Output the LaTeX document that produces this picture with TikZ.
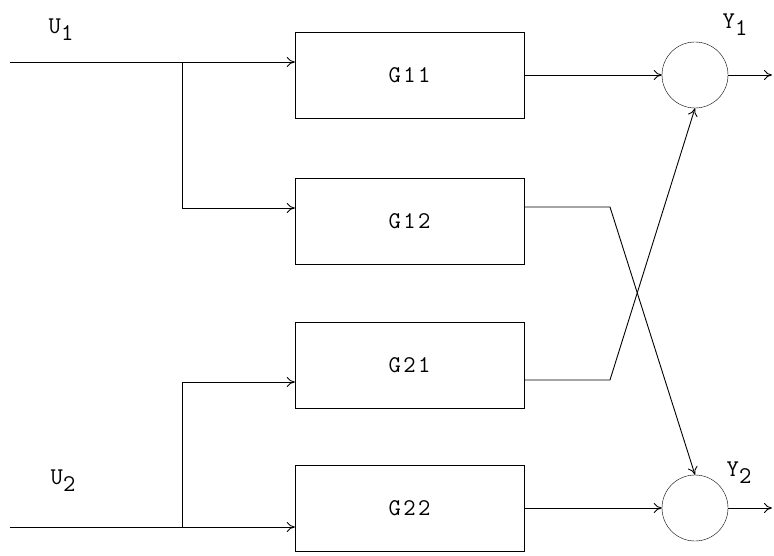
\documentclass[tikz,border=0pt]{standalone}
\usepackage{fontspec}
\newfontfamily\diagfont[LetterSpace=10]{Latin Modern Mono}
\usetikzlibrary{arrows.meta,positioning,calc}
\newcommand{\dn}[1]{\raisebox{-0.65ex}{#1}}

\begin{document}
\begin{tikzpicture}[x=1pt,y=-1pt,
  blk/.style={draw,minimum width=229pt,minimum height=86pt,
              font=\fontsize{24}{26}\diagfont},
  sum/.style={draw,circle,minimum size=66pt,inner sep=0pt},
  sig/.style={-{To[length=8pt,width=10pt]},line width=0.9pt},
  lbl/.style={font=\fontsize{24}{26}\diagfont,inner sep=0pt}
]
\useasboundingbox (0,0) rectangle (774,556);

% transfer blocks
\node[blk] (g11) at (409.5,75)  {G11};
\node[blk] (g12) at (409.5,221) {G12};
\node[blk] (g21) at (409.5,365) {G21};
\node[blk] (g22) at (409.5,508) {G22};

% summing junctions
\node[sum] (s1) at (695,75)  {};
\node[sum] (s2) at (695,508) {};

% ends and corners
\coordinate (u1) at (10,62);
\coordinate (u2) at (10,527);
\coordinate (b1) at (182,62);
\coordinate (b2) at (182,527);
\coordinate (k1) at (610,207);
\coordinate (k2) at (610,380);
\coordinate (y1) at (772,75);
\coordinate (y2) at (772,508);

% labels
\node[lbl] (lu1) at (61,30)  {U\dn{1}};
\node[lbl] (lu2) at (63,481) {U\dn{2}};
\node[lbl] (ly1) at (735,25) {Y\dn{1}};
\node[lbl] (ly2) at (739,473) {Y\dn{2}};

% input U1
\draw[sig] (u1) -- (u1 -| g11.west);
\draw[sig] (b1) |- ($(g12.west)+(0,-13)$);

% input U2
\draw[sig] (u2) -- (u2 -| g22.west);
\draw[sig] (b2) |- ($(g21.west)+(0,17)$);

% straight paths
\draw[sig] (g11.east) -- (s1.west);
\draw[sig] (g22.east) -- (s2.west);

% cross coupling
\draw[sig] (g12.east |- k1) -- (k1) -- (s2.north);
\draw[sig] (g21.east |- k2) -- (k2) -- (s1.south);

% outputs
\draw[sig] (s1.east) -- (y1);
\draw[sig] (s2.east) -- (y2);

\end{tikzpicture}
\end{document}
